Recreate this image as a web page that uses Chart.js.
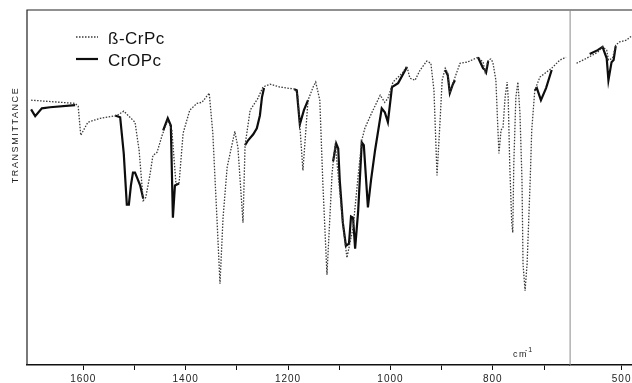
<!DOCTYPE html>
<html>
<head>
  <title>IR spectra: beta-CrPc and CrOPc</title>
  <script src="https://cdn.jsdelivr.net/npm/chart.js"></script>
  <style>
    html, body { margin: 0; padding: 0; background: #fff; }
    #wrap { width: 632px; height: 383px; position: relative; }
  </style>
</head>
<body>
  <div id="wrap">
    <canvas id="irChart"></canvas>
  </div>

  <script>
    // wavenumbers (cm-1) and transmittance (0..100, arbitrary)
    // left part of the chart paper: 1710 -> 650 cm-1
    const betaWnL = [1702,1616,1610,1605,1591,1567,1534,1521,1499,1491,
      1483,1478,1470,1464,1456,1446,1435,1427,1419,1413,
      1405,1392,1378,1368,1354,1347,1339,1333,1327,1319,
      1304,1298,1288,1284,1274,1259,1249,1235,1216,1186,
      1181,1171,1161,1151,1146,1138,1132,1124,1114,1108,
      1093,1085,1073,1063,1056,1050,1036,1020,1011,1005,
      995,977,968,962,952,942,929,921,915,909,
      903,899,893,888,884,878,864,850,829,819,
      815,809,804,800,794,790,788,784,780,776,
      772,770,767,763,761,759,755,751,747,743,
      741,737,733,727,724,718,708,698,685,669,
      657];
    const betaTL = [74.6,73.7,72.9,64.7,68.4,69.5,70.3,71.5,68.4,60.5,
      46.3,47.2,53.4,59.0,59.9,64.7,68.9,66.1,51.1,51.1,
      65.3,71.8,73.7,74.0,76.6,65.3,41.5,22.9,41.5,55.7,
      65.8,61.3,40.1,61.9,71.8,75.1,78.3,79.1,78.3,77.7,
      76.0,54.8,74.6,78.3,79.7,74.6,51.1,25.4,54.0,62.4,
      39.8,30.2,38.7,53.4,63.3,66.7,71.2,76.0,74.0,75.1,
      79.7,82.2,84.2,80.8,80.2,83.1,85.6,85.0,77.4,53.4,
      68.9,80.2,83.6,82.2,76.6,79.4,85.0,85.3,86.7,85.3,
      82.5,85.9,86.2,85.3,80.2,66.1,59.6,66.1,67.0,75.4,
      79.7,75.4,56.8,39.8,37.3,56.8,75.4,79.7,70.9,52.0,
      28.5,20.9,28.5,52.0,66.1,77.4,81.1,82.2,83.6,85.9,
      86.7];
    // right part (expanded scale): 650 -> 470 cm-1
    const betaWnR = [630,601,569,555,543,538,526,517,506,486,471];
    const betaTR = [85.0,86.4,88.1,89.6,88.7,85.9,86.4,90.1,91.0,91.5,92.7];

    // CrOPc is only traced where it departs from the beta-CrPc curve (null = pen up)
    const croWnL = [1702,1694,1681,1665,1616, 1600,
      1538,1528,1521,1515,1511,1507,1503,1499,1495,1489,1483, 1460,
      1444,1435,1429,1425,1421,1413, 1350,
      1284,1278,1268,1261,1255,1251,1247, 1200,
      1188,1183,1177,1169,1161, 1130,
      1112,1106,1102,1099,1093,1087,1081,1077,1073,1069,1063,1056,1052,1044,1038,1030,1017,1011,1005,997,985,968, 940,
      893,888,884,878,874, 850,
      829,819,815,813,809, 780,
      718,714,706,696,685];
    const croTL = [72.0,70.1,72.3,72.6,73.2, null,
      70.3,69.8,59.6,45.2,45.2,50.6,54.2,54.2,52.8,50.6,46.9, null,
      66.1,69.5,67.5,41.5,50.6,51.1, null,
      61.9,63.3,65.0,66.7,70.3,75.4,78.0, null,
      77.7,77.4,67.8,71.8,74.6, null,
      57.4,62.4,61.0,52.0,40.1,33.6,34.2,41.8,41.5,32.8,43.5,62.7,61.9,44.4,52.0,60.5,72.3,71.2,68.4,78.3,79.4,83.9, null,
      83.1,81.6,76.6,79.1,80.2, null,
      86.7,83.6,83.1,82.5,85.6, null,
      77.4,78.0,74.6,78.0,83.1];
    const croWnR = [592,569,555,543,538,529,523,517];
    const croTR = [87.6,88.7,89.6,86.4,80.2,85.3,85.9,89.8];

    const leftTicks = [1600,1500,1400,1300,1200,1100,1000,900,800,700];
    const rightTicks = [500];
    const labeledTicks = [1600,1400,1200,1000,800,500];

    const toPoints = (xs, ys) => xs.map((x, i) => ({ x: x, y: ys[i] }));

    const dotted = { borderColor: '#3a3a3a', borderWidth: 1.3, borderDash: [1.5, 1.5] };
    const solid = { borderColor: '#0d0d0d', borderWidth: 2.2 };

    const tickLabel = v => labeledTicks.includes(v) ? String(v) : '';

    const frame = {
      id: 'frame',
      beforeDraw(chart) {
        chart.ctx.letterSpacing = '1px';
      },
      afterDraw(chart) {
        const ctx = chart.ctx;
        const a = chart.chartArea;
        const xR = chart.scales.xR;
        ctx.save();
        ctx.letterSpacing = '0px';
        // top and left edges of the paper
        ctx.strokeStyle = '#222';
        ctx.lineWidth = 1.2;
        ctx.beginPath();
        ctx.moveTo(a.left, a.bottom);
        ctx.lineTo(a.left, a.top);
        ctx.lineTo(a.right, a.top);
        ctx.stroke();
        // scale change line
        ctx.strokeStyle = '#8a8a8a';
        ctx.lineWidth = 1;
        ctx.beginPath();
        ctx.moveTo(xR.left + 0.5, a.top);
        ctx.lineTo(xR.left + 0.5, a.bottom);
        ctx.stroke();

        // legend
        const items = [
          { ds: chart.data.datasets[0], y: 37 },
          { ds: chart.data.datasets[2], y: 59 }
        ];
        items.forEach(it => {
          ctx.strokeStyle = it.ds.borderColor;
          ctx.lineWidth = it.ds.borderWidth;
          ctx.setLineDash(it.ds.borderDash || []);
          ctx.beginPath();
          ctx.moveTo(76, it.y);
          ctx.lineTo(98, it.y);
          ctx.stroke();
          ctx.setLineDash([]);
          ctx.fillStyle = '#111';
          ctx.font = '17px "Liberation Sans", Arial, sans-serif';
          ctx.letterSpacing = '0.5px';
          ctx.textBaseline = 'alphabetic';
          ctx.fillText(it.ds.label, 108, it.y + 7);
        });

        // y title
        ctx.save();
        ctx.translate(18, 135);
        ctx.rotate(-Math.PI / 2);
        ctx.font = '9px "Liberation Sans", Arial, sans-serif';
        ctx.letterSpacing = '1.6px';
        ctx.textAlign = 'center';
        ctx.textBaseline = 'alphabetic';
        ctx.fillStyle = '#222';
        ctx.fillText('TRANSMITTANCE', 0, 0);
        ctx.restore();

        // unit
        ctx.font = '9px "Liberation Sans", Arial, sans-serif';
        ctx.letterSpacing = '1.5px';
        ctx.fillStyle = '#222';
        ctx.textAlign = 'left';
        ctx.fillText('cm', 513, 357);
        ctx.font = '7px "Liberation Sans", Arial, sans-serif';
        ctx.letterSpacing = '1px';
        ctx.fillText('-1', 525, 352);
        ctx.restore();
      }
    };

    const xCommon = {
      type: 'linear',
      position: 'bottom',
      stack: 'wn',
      offset: false,
      border: { display: true, color: '#111', width: 1.5 },
      grid: { drawOnChartArea: false, drawTicks: true, tickLength: 5, color: '#111', lineWidth: 1 },
      ticks: {
        autoSkip: false,
        maxRotation: 0,
        padding: 3,
        color: '#222',
        font: { family: '"Liberation Sans", Arial, sans-serif', size: 10 },
        callback: tickLabel
      },
      // keep the paper edge flush with the window
      afterFit: s => { s.paddingLeft = 0; s.paddingRight = 0; }
    };

    new Chart(document.getElementById('irChart'), {
      type: 'line',
      data: {
        datasets: [
          { label: 'ß-CrPc', xAxisID: 'xL', data: toPoints(betaWnL, betaTL), ...dotted },
          { label: 'ß-CrPc', xAxisID: 'xR', data: toPoints(betaWnR, betaTR), ...dotted },
          { label: 'CrOPc', xAxisID: 'xL', data: toPoints(croWnL, croTL), ...solid },
          { label: 'CrOPc', xAxisID: 'xR', data: toPoints(croWnR, croTR), ...solid }
        ]
      },
      options: {
        responsive: true,
        maintainAspectRatio: false,
        animation: false,
        events: [],
        layout: { padding: { left: 27, top: 10, right: 0, bottom: -5 } },
        elements: {
          point: { radius: 0 },
          line: { tension: 0, fill: false }
        },
        spanGaps: false,
        scales: {
          xL: {
            ...xCommon,
            min: 650, max: 1710, reverse: true, stackWeight: 542.6,
            afterBuildTicks: s => { s.ticks = leftTicks.map(v => ({ value: v })); }
          },
          xR: {
            ...xCommon,
            min: 470, max: 650, reverse: true, stackWeight: 62.4,
            afterBuildTicks: s => { s.ticks = rightTicks.map(v => ({ value: v })); }
          },
          y: { display: false, min: 0, max: 100 }
        },
        plugins: {
          legend: { display: false },
          tooltip: { enabled: false }
        }
      },
      plugins: [frame]
    });
  </script>
</body>
</html>
